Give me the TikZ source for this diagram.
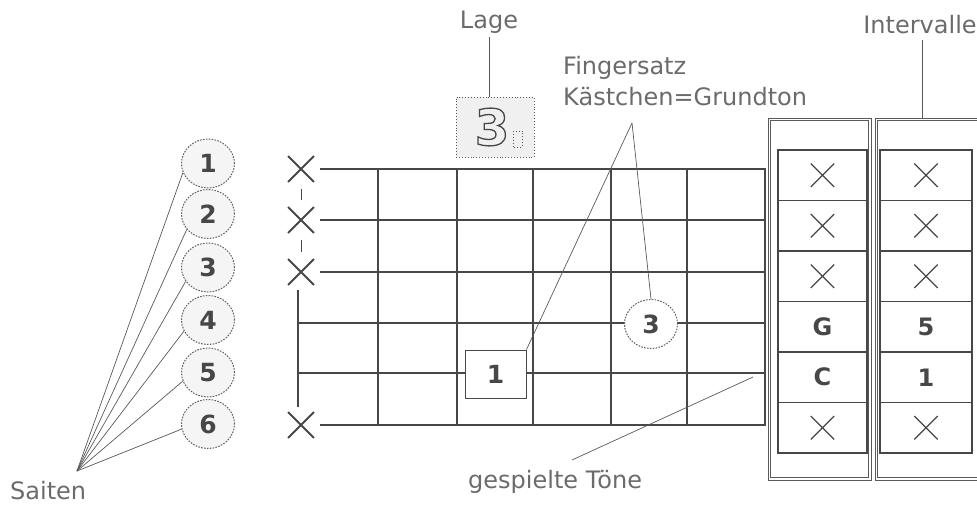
\documentclass[tikz,border=0pt]{standalone}
\usepackage{fontspec}
\setmainfont{DejaVu Sans}
\usetikzlibrary{shapes.misc,shapes.geometric,calc}
\definecolor{ink}{gray}{0.28}
\definecolor{txt}{gray}{0.42}
\begin{document}
\begin{tikzpicture}[x=1pt,y=-1pt,
  lbl/.style={text=txt, font=\fontsize{24}{26}\selectfont, inner sep=0pt, anchor=west},
  gridline/.style={draw=ink, line width=1.2pt},
  num/.style={ellipse, draw=gray!75!black, dash pattern=on 1.6pt off 1.3pt, line width=1pt, fill=gray!8,
    minimum width=53pt, minimum height=49pt, inner sep=0pt,
    font=\fontsize{25}{25}\selectfont\bfseries, text=ink},
  xmark/.style={cross out, draw=ink, line width=1.8pt, minimum size=24pt, inner sep=0pt},
  cellx/.style={cross out, draw=ink, line width=1.3pt, minimum size=22pt, inner sep=0pt},
  lead/.style={draw=gray!70!black, line width=0.7pt},
  cellA/.style={rectangle, draw=ink, line width=1.1pt, minimum width=89pt, minimum height=50.5pt, inner sep=0pt,
    font=\fontsize{24}{24}\selectfont\bfseries, text=ink},
  cellB/.style={cellA, minimum width=92pt},
  obox/.style={draw=gray!70!black, line width=0.7pt},
  fbox/.style={rectangle, draw=ink, line width=1pt, fill=white, minimum width=61pt, minimum height=48pt, inner sep=0pt,
    font=\fontsize{25}{25}\selectfont\bfseries, text=ink},
  lagebox/.style={rectangle, draw=gray!70!black, dotted, line width=0.9pt, fill=gray!12, minimum width=78pt, minimum height=60pt, inner sep=0pt}
]
\useasboundingbox (0,0) rectangle (977,506);

% ---------- outer boxes (right) ----------
\draw[obox] (768,118) rectangle (871,480);
\draw[obox] (770.5,120.5) rectangle (868.5,477.5);
\draw[obox] (875,118) rectangle (1000,480);
\draw[obox] (877.5,120.5) rectangle (1000,477.5);

% ---------- grid ----------
\foreach \y in {169,220,272,425} \draw[gridline] (320,\y) -- (766,\y);
\foreach \y in {323,373} \draw[gridline] (298,\y) -- (766,\y);
\foreach \x in {378,457,533,611,687,765} \draw[gridline] (\x,169) -- (\x,425);
\draw[gridline] (298,290) -- (298,407);

% ---------- muted-string crosses ----------
\node[xmark] (x1) at (301,169) {};
\node[xmark] (x2) at (301,220) {};
\node[xmark] (x3) at (301,272) {};
\node[xmark] (x6) at (301,425) {};
\draw[ink, line width=1pt] ($(x1.south)+(0,7)$) -- ($(x2.north)+(0,-7)$);
\draw[ink, line width=1pt] ($(x2.south)+(0,7)$) -- ($(x3.north)+(0,-7)$);

% ---------- fingering ----------
\node[fbox] (b1) at (495.5,374) {1};
\node[num, fill=white] (c3) at (651,324) {3};

% ---------- Lage ----------
\node[lagebox] (lbox) at (495,127) {};
\node[text=ink, inner sep=0pt, font=\fontsize{50}{50}\selectfont\bfseries] (l3) at (492,127)
  {\special{pdf:code 1 Tr 1.3 w}3\special{pdf:code 0 Tr}};
\draw[gray!70!black, dotted, line width=0.9pt] (513,131) rectangle (522,147);
\node[lbl, anchor=center] (lage) at (489,22) {Lage};
\draw[lead] (lage.south) ++(0,4) coordinate (lagetop) -- (lagetop |- lbox.north);

% ---------- Fingersatz ----------
\node[lbl] (fs1) at (563,68) {Fingersatz};
\node[lbl] (fs2) at (563,97) {Kästchen=Grundton};
\coordinate (fsp) at (632,123);
\draw[lead] (fsp) -- (b1.north east);
\draw[lead] (fsp) -- (c3.north);

% ---------- Saiten ----------
\node[num] (n1) at (208,163.5) {1};
\node[num] (n2) at (208,214) {2};
\node[num] (n3) at (208,267.5) {3};
\node[num] (n4) at (208,320) {4};
\node[num] (n5) at (208,372.5) {5};
\node[num] (n6) at (208,424) {6};
\node[lbl] (sai) at (10,491) {Saiten};
\coordinate (sp) at (77,471);
\foreach \n/\a in {n1/200,n2/216,n3/212,n4/205,n5/199,n6/191} \draw[lead] (sp) -- (\n.\a);

% ---------- gespielte Töne ----------
\node[lbl] (gt) at (468,482) {gespielte Töne};
\coordinate (gts) at (572,460);
\coordinate (gtp) at (753,377);
\draw[lead] (gts) -- (gtp);

% ---------- interval columns ----------
\node[cellA] (a1) at (822.5,175.25) {};
\node[cellA] (a2) at (822.5,225.75) {};
\node[cellA] (a3) at (822.5,276.25) {};
\node[cellA] (a4) at (822.5,326.75) {G};
\node[cellA] (a5) at (822.5,377.25) {C};
\node[cellA] (a6) at (822.5,427.75) {};
\node[cellB] (i1) at (926,175.25) {};
\node[cellB] (i2) at (926,225.75) {};
\node[cellB] (i3) at (926,276.25) {};
\node[cellB] (i4) at (926,326.75) {5};
\node[cellB] (i5) at (926,377.25) {1};
\node[cellB] (i6) at (926,427.75) {};
\foreach \c in {a1,a2,a3,a6,i1,i2,i3,i6} \node[cellx] at (\c) {};

\node[lbl, anchor=center] (intv) at (920,25) {Intervalle};
\draw[lead] (922,40) coordinate (itop) -- (922,118) coordinate (ibot);
\end{tikzpicture}
\end{document}
